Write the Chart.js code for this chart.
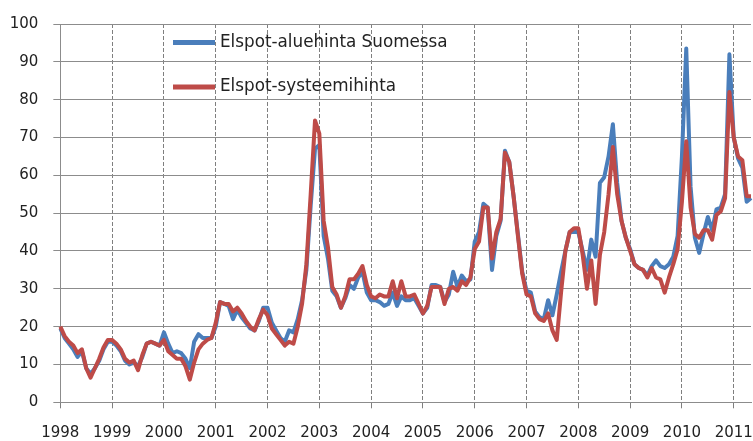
<!DOCTYPE html>
<html>
<head>
<meta charset="utf-8">
<script src="https://cdn.jsdelivr.net/npm/chart.js@4/dist/chart.umd.min.js"></script>
<style>
  html, body { margin: 0; padding: 0; background: #fff; }
</style>
</head>
<body>
<canvas id="myChart" width="753" height="441"></canvas>
<script>
// monthly prices, Jan 1998 - May 2011
const years = ['1998','1999','2000','2001','2002','2003','2004','2005','2006','2007','2008','2009','2010','2011'];
const monthsInLastYear = 5;

const seriesNames = ['Elspot-aluehinta Suomessa', 'Elspot-systeemihinta'];

const finland = [
  19.5, 17, 15.5, 14, 12, 13.5, 9, 7.5, 9, 11, 14, 16,
  16, 15, 13.5, 11, 10, 10.5, 9.5, 12, 15.5, 16, 15.5, 15,
  18.5, 15.5, 13, 13.5, 13, 11.5, 9, 16, 18, 17, 17, 17,
  20, 26.5, 26, 25.5, 22, 24.5, 22.5, 21, 19.5, 19, 21.5, 25,
  25, 21, 19, 17, 16, 19, 18.5, 22, 27, 35, 52, 67,
  68, 44, 38, 29.5, 28, 25, 27.5, 31, 30, 33, 34.5, 29,
  27, 27, 26.5, 25.5, 26, 29, 25.5, 28, 27, 27, 27.5, 25.5,
  23.5, 25, 31, 31, 30.5, 26.5, 28.5, 34.5, 30.5, 33.5, 32, 32.5,
  42.5, 45, 52.5, 51.5, 35, 44, 48, 66.5, 63.5, 54.5, 44.5, 34.5,
  29.5, 29, 24, 22.5, 22, 27, 23, 28.5, 34.5, 40, 45, 45,
  45, 40, 35, 43, 38.5, 58, 59.5, 65, 73.5, 58, 48, 43.5,
  40.5, 36.5, 35.5, 35, 33.5, 36, 37.5, 36, 35.5, 36.5, 38.5, 44,
  65, 93.5, 57, 43.5, 39.5, 44.5, 49, 45.5, 51, 51.5, 55, 92,
  70, 64.5, 62, 53, 54
];

const system = [
  20, 17.5, 16, 15, 13, 14, 9, 6.5, 9, 11.5, 14.5, 16.5,
  16.5, 15.5, 14, 11.5, 10.5, 11, 8.5, 12.5, 15.5, 16, 15.5, 15,
  16.5, 13.5, 12.5, 11.5, 11.5, 9.5, 6, 10.5, 14, 15.5, 16.5, 17,
  21, 26.5, 26, 26, 24, 25, 23.5, 21.5, 20, 19, 22, 24.5,
  23, 19.5, 18, 16.5, 15, 16, 15.5, 20, 26, 36.5, 55, 74.5,
  71, 48, 41, 30.5, 28.5, 25, 28, 32.5, 32.5, 34, 36, 31,
  28, 27.5, 28.5, 28, 28, 32, 27.5, 32, 28, 28, 28.5, 26,
  23.5, 25.5, 30.5, 30.5, 30.5, 26, 30, 30.5, 29.5, 32, 31, 33,
  40.5, 42.5, 51.5, 51.5, 38, 45, 48.5, 66, 63.5, 54.5, 44, 34,
  28.5, 28, 23.5, 22, 21.5, 23.5, 19, 16.5, 29, 40, 45, 46,
  46, 39, 30, 37.5, 26, 39, 45, 55, 67.5, 55, 48, 43.5,
  40, 36.5, 35.5, 35, 33, 35.5, 33, 32.5, 29, 33, 36.5, 40.5,
  53, 69, 51.5, 44.5, 43.5, 45.5, 45.5, 43, 49.5, 50.5, 54, 82,
  70, 65, 64, 54.5, 54.5
];

const yTicks = [0, 10, 20, 30, 40, 50, 60, 70, 80, 90, 100];

const colors = ['#4A7EBB', '#BE4B48'];

// one label per month, year text only on January
let labels = [];
years.forEach((y, i) => {
  const n = i === years.length - 1 ? monthsInLastYear : 12;
  for (let m = 0; m < n; m++) labels.push(m === 0 ? y : '');
});

const legendInside = {
  id: 'legendInside',
  afterDraw(chart) {
    const ctx = chart.ctx;
    const rows = [42.5, 87];
    ctx.save();
    ctx.font = '16.8px "DejaVu Sans"';
    ctx.textBaseline = 'middle';
    ctx.fillStyle = '#222';
    rows.forEach((y, i) => {
      ctx.strokeStyle = colors[i];
      ctx.lineWidth = 5;
      ctx.beginPath();
      ctx.moveTo(173, y);
      ctx.lineTo(215, y);
      ctx.stroke();
      ctx.fillText(seriesNames[i], 220, y);
    });
    ctx.restore();
  }
};

const tickFont = { family: '"DejaVu Sans"', size: 15 };

const graph = new Chart(document.getElementById('myChart'), {
  type: 'line',
  data: {
    labels: labels,
    datasets: [{
      label: seriesNames[0],
      data: finland,
      borderColor: colors[0],
      borderWidth: 4,
      pointRadius: 0,
      tension: 0,
      borderJoinStyle: 'round',
      order: 2
    }, {
      label: seriesNames[1],
      data: system,
      borderColor: colors[1],
      borderWidth: 4,
      pointRadius: 0,
      tension: 0,
      borderJoinStyle: 'round',
      order: 1
    }]
  },
  options: {
    responsive: false,
    animation: false,
    // chart area: x 60.3..751, y 22.7..402.3
    layout: { padding: { top: 22.7, right: 2, left: -5.3, bottom: -16.7 } },
    plugins: {
      legend: { display: false },
      tooltip: { enabled: false }
    },
    scales: {
      x: {
        grid: {
          color: (c) => (c.index % 12 === 0 ? '#7f7f7f' : 'transparent'),
          tickLength: 6
        },
        border: { color: '#8c8c8c', dash: [4, 2] },
        ticks: {
          autoSkip: false,
          maxRotation: 0,
          minRotation: 0,
          padding: 0,
          color: '#222',
          font: { family: '"DejaVu Sans"', size: 15, lineHeight: 49.4 / 15 }
        }
      },
      y: {
        min: 0,
        max: 100,
        afterBuildTicks: (s) => { s.ticks = yTicks.map(v => ({ value: v })); },
        grid: { color: '#8c8c8c', tickLength: 7 },
        border: { color: '#8c8c8c' },
        ticks: { padding: 15, color: '#222', font: tickFont }
      }
    }
  },
  plugins: [legendInside]
});
</script>
</body>
</html>
